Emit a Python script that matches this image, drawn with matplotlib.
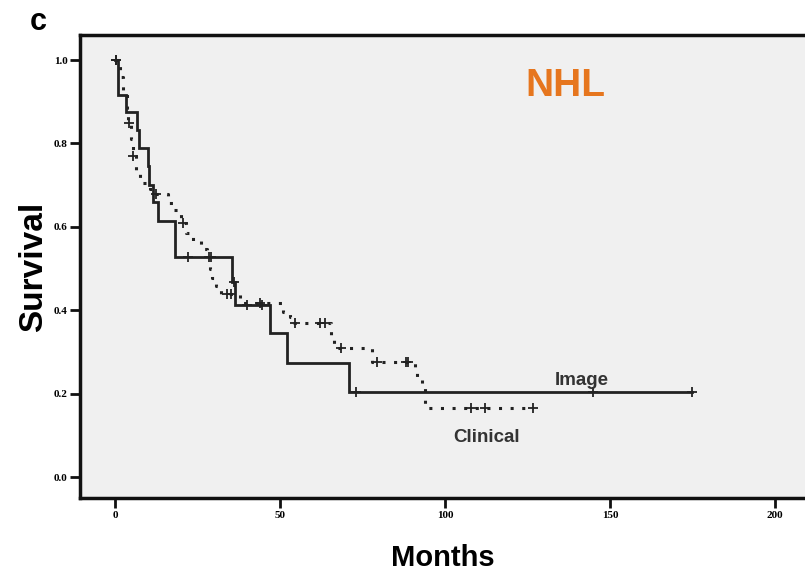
import matplotlib
matplotlib.use('Agg')
import matplotlib.pyplot as plt
import numpy as np

# ---- data ----
image_times = [0, 0.9, 3.3, 6.7, 7.2, 10.0, 10.3, 11.5, 13.0, 18.2, 35.5, 36.4, 47.0, 52.0, 71.0]
image_surv = [1.0, 0.917, 0.875, 0.833, 0.79, 0.745, 0.70, 0.66, 0.615, 0.527, 0.467, 0.412, 0.345, 0.273, 0.204]
image_end = 175
image_censor = [0.3, 22, 29, 36, 40, 44.5, 73, 145, 175]

clin_times = [0, 1.5, 2.5, 3.5, 4.0, 5.0, 5.5, 6.3, 7.5, 10.5, 12.0, 16.0, 18.0, 20.0, 21.5, 23.5,
              26.0, 28.0, 28.7, 29.5, 30.5, 32.0, 38.0, 51.0, 53.0, 54.0, 65.5, 66.5, 78.0, 91.0,
              91.5, 93.0, 94.0]
clin_surv = [1.0, 0.96, 0.92, 0.88, 0.85, 0.81, 0.77, 0.73, 0.705, 0.69, 0.68, 0.657, 0.64, 0.61,
             0.585, 0.565, 0.547, 0.527, 0.50, 0.477, 0.458, 0.44, 0.417, 0.395, 0.385, 0.37,
             0.34, 0.31, 0.276, 0.26, 0.233, 0.22, 0.165]
clin_end = 126.7
clin_censor = [0.3, 4.2, 5.5, 12.4, 20.5, 28.5, 34, 35.2, 44, 54.5, 62, 63.5, 68.5, 79.5,
               88.2, 88.8, 108, 112, 126.7]

x_ticks = [0, 50, 100, 150, 200]
y_ticks = [0.0, 0.2, 0.4, 0.6, 0.8, 1.0]


def surv_at(times, surv, t):
    idx = np.searchsorted(times, t, side='right') - 1
    return np.asarray(surv)[idx]


fig = plt.figure(figsize=(8.05, 5.72), dpi=100)
ax = fig.add_axes([80 / 805, 1 - 498 / 572, 1 - 80 / 805, (498 - 35) / 572])
ax.set_facecolor('#f0f0f0')

line_col = '#222222'
# Image (solid)
ax.step(image_times + [image_end], image_surv + [image_surv[-1]], where='post',
        color=line_col, lw=2.0, solid_joinstyle='miter')
ax.plot(image_censor, surv_at(image_times, image_surv, image_censor), ls='none',
        marker='+', ms=7, mew=1.3, color=line_col)

# Clinical (dotted)
ax.step(clin_times + [clin_end], clin_surv + [clin_surv[-1]], where='post',
        color=line_col, lw=2.2, ls=(0, (1, 2.8)), dash_capstyle='butt')
ax.plot(clin_censor, surv_at(clin_times, clin_surv, clin_censor), ls='none',
        marker='+', ms=7, mew=1.3, color=line_col)

ax.set_xlim(-10.6, 209.1)
ax.set_ylim(-0.050, 1.060)
ax.set_xticks(x_ticks)
ax.set_yticks(y_ticks)
ax.set_xticklabels([str(v) for v in x_ticks], fontsize=8, family='Liberation Serif', fontweight='bold')
ax.set_yticklabels(['%.1f' % v for v in y_ticks], fontsize=8, family='Liberation Serif', fontweight='bold')
ax.tick_params(axis='both', direction='out', length=7, width=2, color='#111111', pad=2)

for s in ['left', 'bottom', 'top']:
    ax.spines[s].set_linewidth(2.5)
    ax.spines[s].set_color('#111111')
ax.spines['right'].set_visible(False)

ax.set_xlabel('Months', fontsize=21, fontweight='bold', family='Liberation Sans', labelpad=18)
ax.set_ylabel('Survival', fontsize=24, fontweight='bold', family='Liberation Sans', labelpad=3)

fig.text(565 / 805, 1 - 86 / 572, 'NHL', color='#e6761e', fontsize=28, fontweight='bold',
         family='Liberation Sans', ha='center', va='center')
ax.text(141.5, 0.232, 'Image', color='#333333', fontsize=13.5, fontweight='bold',
        family='Liberation Sans', ha='center', va='center')
ax.text(112.5, 0.094, 'Clinical', color='#333333', fontsize=13.5, fontweight='bold',
        family='Liberation Sans', ha='center', va='center')

fig.text(38 / 805, 1 - 22 / 572, 'c', fontsize=22, fontweight='bold', family='Liberation Sans',
         ha='center', va='center')

fig.savefig('out.png', dpi=100)
